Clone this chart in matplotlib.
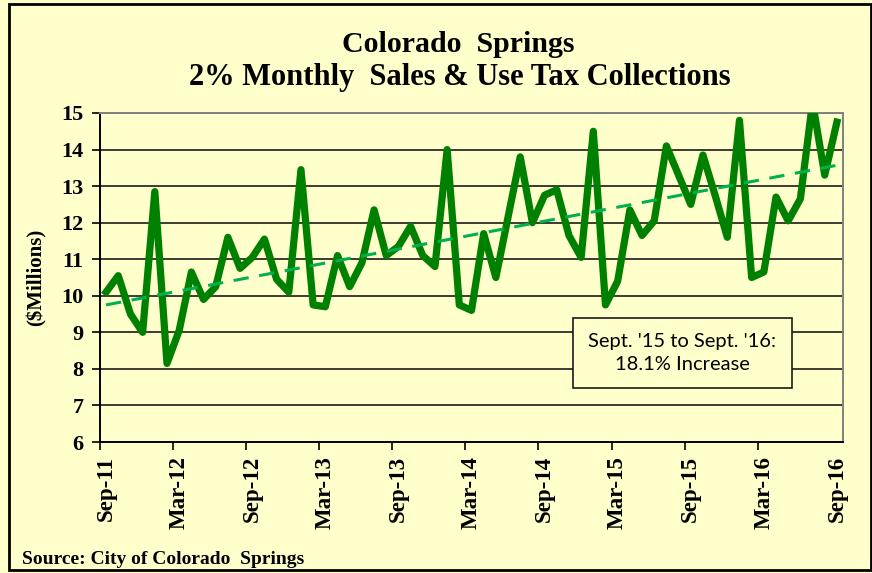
import numpy as np
import matplotlib
matplotlib.use("Agg")
import matplotlib.pyplot as plt
from matplotlib.patches import Rectangle

# monthly collections, Sep-11 .. Sep-16 ($ millions)
collections = [
    10.1, 10.55, 9.5, 9.0, 12.85, 8.15, 9.05, 10.65, 9.9, 10.25, 11.6, 10.75,
    11.05, 11.55, 10.45, 10.1, 13.45, 9.75, 9.7, 11.1, 10.25, 10.9, 12.35, 11.1,
    11.35, 11.9, 11.1, 10.8, 14.0, 9.75, 9.6, 11.7, 10.5, 12.15, 13.8, 12.0,
    12.75, 12.9, 11.65, 11.05, 14.5, 9.75, 10.4, 12.35, 11.65, 12.05, 14.1, 13.3,
    12.5, 13.85, 12.75, 11.6, 14.8, 10.5, 10.65, 12.7, 12.05, 12.65, 15.3, 13.3,
    14.75,
]
# linear trendline as drawn in the chart (value at first and last month)
trend_ends = [9.75, 13.57]
tick_labels = ["Sep-11", "Mar-12", "Sep-12", "Mar-13", "Sep-13", "Mar-14",
               "Sep-14", "Mar-15", "Sep-15", "Mar-16", "Sep-16"]
y_ticks = [6, 7, 8, 9, 10, 11, 12, 13, 14, 15]

BG = "#FFFFCC"
SERIF = "Liberation Serif"

x = np.arange(len(collections))
y = np.array(collections)

fig = plt.figure(figsize=(8.72, 5.73), dpi=100, facecolor=BG)
ax = fig.add_axes([100 / 872, 1 - 442 / 573, 743 / 872, 329 / 573])
ax.set_facecolor(BG)

for v in y_ticks[1:]:
    ax.axhline(v, color="#1a1a1a", lw=1.2, zorder=1)

ax.plot(x, y, color="#008000", lw=5.2, zorder=3)
ax.plot([x[0], x[-1]], trend_ends, color="#00B050", lw=2.2,
        dashes=(5, 3.5), zorder=4)

ax.set_xlim(-0.5, len(x) - 0.5)
ax.set_ylim(6, 15)

ax.set_xticks(x[::6])
ax.set_xticklabels(tick_labels, rotation=90, fontfamily=SERIF,
                   fontweight="bold", fontsize=16.5)
ax.set_xticks(x[::6][:-1] - 0.5, minor=True)
ax.tick_params(axis="x", which="major", length=0, pad=10)
ax.tick_params(axis="x", which="minor", length=6, width=1.2, color="black")

ax.set_yticks(y_ticks)
ax.set_yticklabels([str(v) for v in y_ticks], fontfamily=SERIF,
                   fontweight="bold", fontsize=16)
ax.tick_params(axis="y", length=6, width=1.2, pad=6)

ax.spines["left"].set_linewidth(1.4)
ax.spines["bottom"].set_linewidth(1.4)
for s in ("top", "right"):
    ax.spines[s].set_color("#808080")
    ax.spines[s].set_linewidth(1.4)

ax.set_ylabel("($Millions)", fontfamily=SERIF, fontweight="bold", fontsize=15)
ax.yaxis.set_label_coords(-53 / 743, 0.5)

fig.text(458 / 872, 1 - 45 / 573, "Colorado  Springs", ha="center", va="center",
         fontfamily=SERIF, fontweight="bold", fontsize=21.5)
fig.text(460 / 872, 1 - 77 / 573, "2% Monthly  Sales & Use Tax Collections",
         ha="center", va="center", fontfamily=SERIF, fontweight="bold",
         fontsize=22)
fig.text(22 / 872, 1 - 560 / 573, "Source: City of Colorado  Springs",
         ha="left", va="center", fontfamily=SERIF, fontweight="bold",
         fontsize=14)

# annotation box
fig.patches.append(Rectangle((573 / 872, 1 - 388 / 573), 219 / 872, 70 / 573,
                             transform=fig.transFigure, facecolor=BG,
                             edgecolor="#1a1a1a", lw=1.2, zorder=5))
fig.text(682 / 872, 1 - 341 / 573, "Sept. '15 to Sept. '16:", ha="center",
         va="center", fontfamily="Lato", fontsize=14.5, zorder=6)
fig.text(682 / 872, 1 - 365 / 573, "18.1% Increase", ha="center",
         va="center", fontfamily="Lato", fontsize=14.5, zorder=6)

# outer chart border
fig.patches.append(Rectangle((9 / 872, 3 / 573), 862 / 872, 566 / 573,
                             transform=fig.transFigure, fill=False,
                             edgecolor="black", lw=2))

fig.savefig("out.png", dpi=100, facecolor=BG)
